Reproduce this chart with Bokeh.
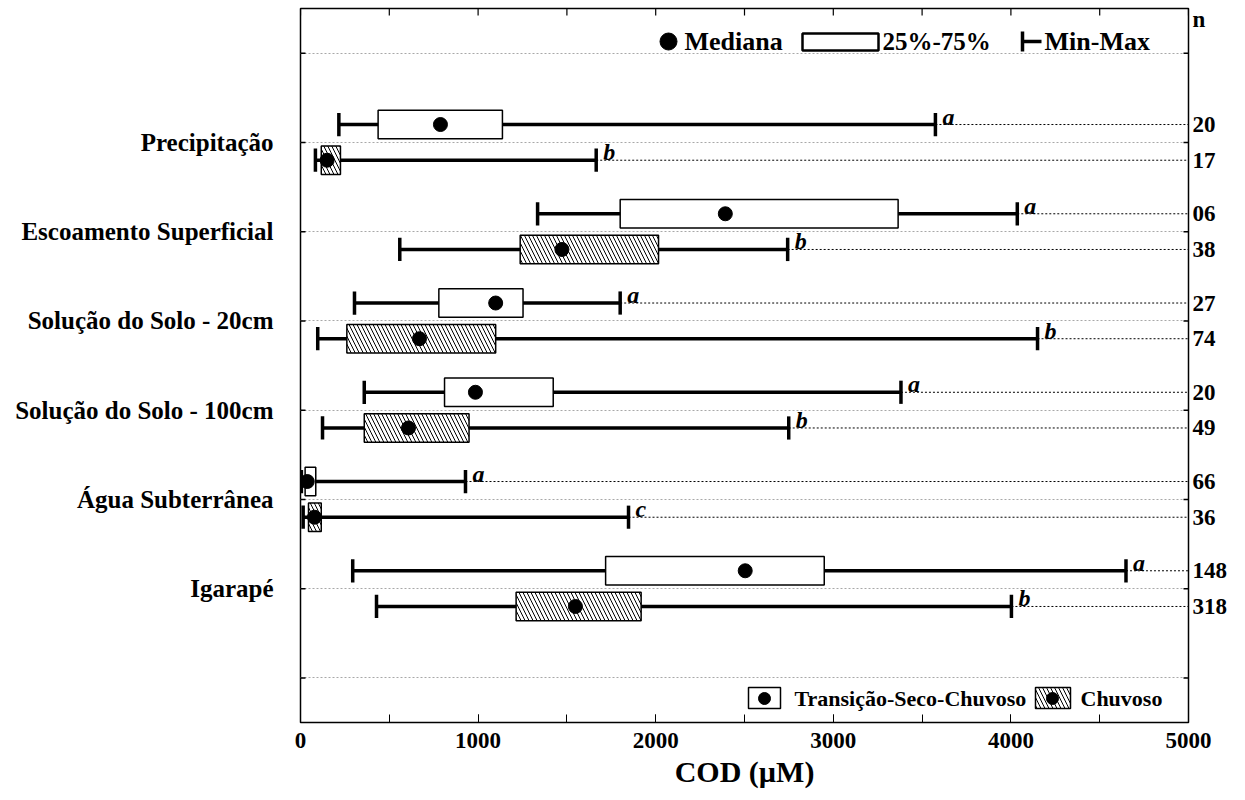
from bokeh.plotting import figure
from bokeh.models import Range1d, FixedTicker, LinearAxis, SingleIntervalTicker
from bokeh.core.properties import value
from bokeh.embed import file_html
from bokeh.resources import INLINE

# ---------------- data ----------------
categories = ["Precipitação", "Escoamento Superficial", "Solução do Solo - 20cm",
              "Solução do Solo - 100cm", "Água Subterrânea", "Igarapé"]

# Transição-Seco-Chuvoso (white boxes)
min_t = [216, 1335, 304, 359, 5, 294]
q1_t = [437, 1800, 779, 811, 26, 1718]
med_t = [788, 2392, 1099, 985, 38, 2504]
q3_t = [1137, 3365, 1253, 1423, 86, 2949]
max_t = [3575, 4036, 1800, 3381, 929, 4648]
n_t = ["20", "06", "27", "20", "66", "148"]
let_t = ["a", "a", "a", "a", "a", "a"]

# Chuvoso (hatched boxes)
min_c = [84, 559, 97, 124, 15, 428]
q1_c = [117, 1237, 261, 359, 45, 1214]
med_c = [150, 1472, 670, 608, 79, 1548]
q3_c = [225, 2016, 1099, 949, 117, 1918]
max_c = [1665, 2743, 4150, 2749, 1847, 4003]
n_c = ["17", "38", "74", "49", "36", "318"]
let_c = ["b", "b", "b", "b", "c", "b"]

x_ticks_interval = 1000
x_title = "COD (µM)"
n_header = "n"

# ---------------- layout constants ----------------
XMIN, XMAX = 0, 5000
ncat = len(categories)
YMIN, YMAX = -0.5, ncat + 1.5
FRAME_L, FRAME_R, FRAME_T, FRAME_B = 300, 1188, 8, 722
W, H = 1245, 800
FNAME = "Liberation Serif"
FONT = value(FNAME)
OFF = 0.2
CAP = 0.13
BOXH = 0.32

def dx(px):
    return XMIN + (px - FRAME_L) / (FRAME_R - FRAME_L) * (XMAX - XMIN)

def dy(py):
    return YMAX - (py - FRAME_T) / (FRAME_B - FRAME_T) * (YMAX - YMIN)

def ux(npx):  # pixel length -> x data length
    return npx / (FRAME_R - FRAME_L) * (XMAX - XMIN)

def uy(npx):  # pixel length -> y data length
    return npx / (FRAME_B - FRAME_T) * (YMAX - YMIN)

ypos = [ncat - i for i in range(ncat)]
y_t = [y + OFF for y in ypos]
y_c = [y - OFF for y in ypos]

p = figure(width=W, height=H, x_range=Range1d(XMIN, XMAX), y_range=Range1d(YMIN, YMAX),
           output_backend="svg", toolbar_location=None,
           min_border_left=FRAME_L, min_border_right=W - FRAME_R,
           min_border_top=FRAME_T, min_border_bottom=H - FRAME_B)
p.outline_line_color = "black"
p.outline_line_width = 1.5
p.background_fill_color = "white"
p.border_fill_color = "white"

# grid
grid_ticks = list(range(0, ncat + 2))
p.xgrid.visible = False
p.ygrid.ticker = FixedTicker(ticks=grid_ticks)
p.ygrid.grid_line_color = "#a8a8a8"
p.ygrid.grid_line_dash = "2 2"
p.ygrid.grid_line_width = 1

# bottom axis
xa = p.xaxis[0]
xa.ticker = SingleIntervalTicker(interval=x_ticks_interval, num_minor_ticks=2)
xa.major_tick_in = 8
xa.major_tick_out = 0
xa.minor_tick_in = 8
xa.minor_tick_out = 0
xa.axis_line_color = None
xa.major_label_text_font = FNAME
xa.major_label_text_font_style = "bold"
xa.major_label_text_font_size = "23px"
xa.major_label_text_color = "black"
xa.major_label_standoff = 10
xa.axis_label = x_title
xa.axis_label_text_font = FNAME
xa.axis_label_text_font_style = "bold"
xa.axis_label_text_font_size = "30px"
xa.axis_label_text_color = "black"
xa.axis_label_standoff = 4

# left axis with category names
ya = p.yaxis[0]
ya.ticker = FixedTicker(ticks=ypos)
ya.major_label_overrides = {float(y): name for name, y in zip(categories, ypos)}
ya.major_tick_in = 0
ya.major_tick_out = 0
ya.minor_tick_line_color = None
ya.axis_line_color = None
ya.major_label_text_font = FNAME
ya.major_label_text_font_style = "bold"
ya.major_label_text_font_size = "25px"
ya.major_label_text_color = "black"
ya.major_label_standoff = 27

# right axis: n values (plus header)
n_ticks = y_t + y_c + [dy(19)]
n_over = {}
for y, s in zip(y_t, n_t):
    n_over[float(y)] = s
for y, s in zip(y_c, n_c):
    n_over[float(y)] = s
n_over[float(dy(19))] = n_header
ra = LinearAxis(ticker=FixedTicker(ticks=n_ticks), major_label_overrides=n_over,
                major_tick_in=0, major_tick_out=0, minor_tick_line_color=None,
                axis_line_color=None, major_label_standoff=4,
                major_label_text_font=FNAME, major_label_text_font_style="bold",
                major_label_text_font_size="23px", major_label_text_color="black")
p.add_layout(ra, "right")

# inward frame ticks: left/right at gridlines, top every half interval
tick_len_side = ux(5)
p.segment(x0=[XMIN] * len(grid_ticks), y0=grid_ticks,
          x1=[XMIN + tick_len_side] * len(grid_ticks), y1=grid_ticks,
          line_color="black", line_width=1.5)
p.segment(x0=[XMAX - tick_len_side] * len(grid_ticks), y0=grid_ticks,
          x1=[XMAX] * len(grid_ticks), y1=grid_ticks, line_color="black", line_width=1.5)
top_ticks = list(range(XMIN, XMAX + 1, x_ticks_interval // 2))
p.segment(x0=top_ticks, y0=[YMAX] * len(top_ticks), x1=top_ticks,
          y1=[YMAX - uy(7)] * len(top_ticks), line_color="black", line_width=1.2)

# ---------------- boxes ----------------
for (mn, q1, md, q3, mx, ys, lets, hatched) in [
        (min_t, q1_t, med_t, q3_t, max_t, y_t, let_t, False),
        (min_c, q1_c, med_c, q3_c, max_c, y_c, let_c, True)]:
    p.segment(x0=mx, y0=ys, x1=[XMAX] * len(mx), y1=ys, line_color="black",
              line_width=1, line_dash="2 2")
    p.segment(x0=mn, y0=ys, x1=mx, y1=ys, line_color="black", line_width=3.5)
    p.segment(x0=mn, y0=[y - CAP for y in ys], x1=mn, y1=[y + CAP for y in ys],
              line_color="black", line_width=3.5)
    p.segment(x0=mx, y0=[y - CAP for y in ys], x1=mx, y1=[y + CAP for y in ys],
              line_color="black", line_width=3.5)
    if hatched:
        p.hbar(y=ys, left=q1, right=q3, height=BOXH, fill_color="white", line_color="black",
               line_width=1.5, hatch_pattern="\\", hatch_color="black", hatch_scale=8,
               hatch_weight=1)
    else:
        p.hbar(y=ys, left=q1, right=q3, height=BOXH, fill_color="white", line_color="black",
               line_width=1.5)
    p.scatter(x=md, y=ys, size=14, color="black")
    p.text(x=mx, y=ys, text=lets, x_offset=7, y_offset=-8, text_font=FONT,
           text_font_style="bold italic", text_font_size="24px", text_color="black",
           text_baseline="alphabetic", text_align="left")

# ---------------- top legend ----------------
ly = 41
p.scatter(x=[dx(668)], y=[dy(ly)], size=17, color="black")
p.text(x=[dx(684)], y=[dy(ly)], text=["Mediana"], text_font=FONT, text_font_style="bold",
       text_font_size="26px", text_baseline="middle", text_color="black")
p.quad(left=[dx(802)], right=[dx(878)], top=[dy(33)], bottom=[dy(50)], fill_color="white",
       line_color="black", line_width=2.5)
p.text(x=[dx(882)], y=[dy(ly)], text=["25%-75%"], text_font=FONT, text_font_style="bold",
       text_font_size="25px", text_baseline="middle", text_color="black")
p.segment(x0=[dx(1022)], y0=[dy(ly)], x1=[dx(1041)], y1=[dy(ly)], line_color="black",
          line_width=3.5)
p.segment(x0=[dx(1022)], y0=[dy(31)], x1=[dx(1022)], y1=[dy(51)], line_color="black",
          line_width=3.5)
p.text(x=[dx(1044)], y=[dy(ly)], text=["Min-Max"], text_font=FONT, text_font_style="bold",
       text_font_size="26px", text_baseline="middle", text_color="black")

# ---------------- bottom legend ----------------
by = 698
p.quad(left=[dx(748)], right=[dx(780)], top=[dy(687)], bottom=[dy(708)], fill_color="white",
       line_color="black", line_width=1.5)
p.scatter(x=[dx(764)], y=[dy(by)], size=12, color="black")
p.text(x=[dx(794)], y=[dy(by)], text=["Transição-Seco-Chuvoso"], text_font=FONT,
       text_font_style="bold", text_font_size="22px", text_baseline="middle",
       text_color="black")
p.quad(left=[dx(1035)], right=[dx(1070)], top=[dy(687)], bottom=[dy(708)], fill_color="white",
       line_color="black", line_width=1.5, hatch_pattern="\\", hatch_color="black",
       hatch_scale=8, hatch_weight=1)
p.scatter(x=[dx(1052)], y=[dy(by)], size=12, color="black")
p.text(x=[dx(1080)], y=[dy(by)], text=["Chuvoso"], text_font=FONT, text_font_style="bold",
       text_font_size="22px", text_baseline="middle", text_color="black")

open("out.html", "w").write(file_html(p, INLINE))
